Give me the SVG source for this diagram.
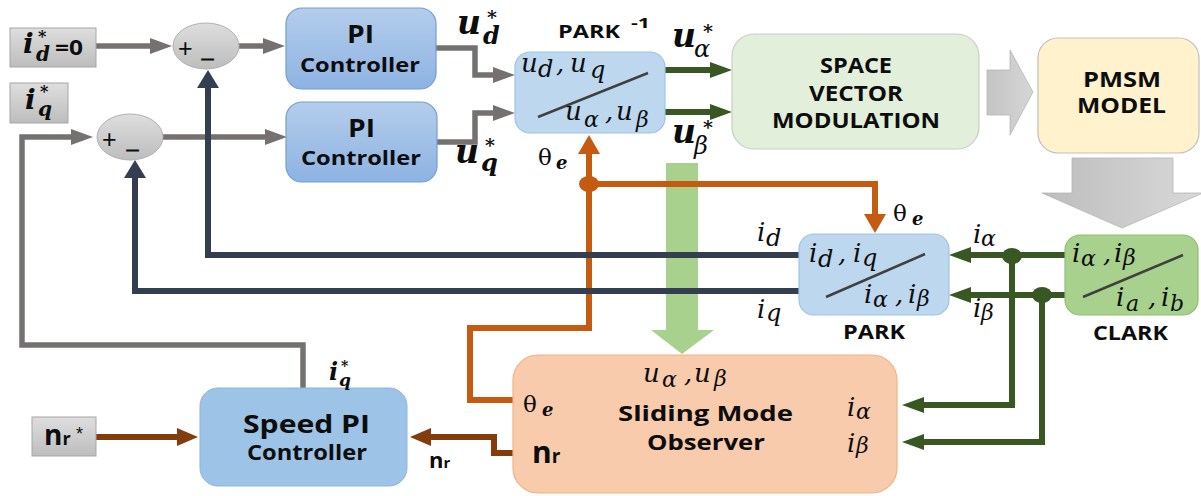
<svg xmlns="http://www.w3.org/2000/svg" width="1201" height="496" viewBox="0 0 1201 496">
  <style>
    .b { font-family: "Open Sans", "Liberation Sans", sans-serif; font-weight: bold; fill: #0d0d0d; }
    .sg { font-family: "Liberation Sans", sans-serif; fill: #0d0d0d; }
    .m { font-family: "DejaVu Serif", "Liberation Serif", serif; font-style: italic; fill: #0d0d0d; }
    .mb { font-family: "DejaVu Serif", "Liberation Serif", serif; font-style: italic; font-weight: bold; fill: #0d0d0d; }
    .th { font-family: "DejaVu Serif", "Liberation Serif", serif; font-style: normal; font-weight: normal; }
    .ln { fill: none; stroke-linejoin: miter; }
    .gray { stroke: #767171; stroke-width: 5.5; }
    .navy { stroke: #333f50; stroke-width: 6; }
    .green { stroke: #385723; stroke-width: 6; }
    .orange { stroke: #c55a11; stroke-width: 6; }
    .brown { stroke: #843c0c; stroke-width: 6; }
    .diag { stroke: #404040; stroke-width: 2.5; }
    .src { fill: url(#gGray); stroke: #a6a6a6; stroke-width: 1; }
    .sum { fill: url(#gGray); stroke: #b0b0b0; stroke-width: 1; }
    .pi { fill: url(#gPI); stroke: #6f9fd8; stroke-width: 1.2; }
    .park { fill: #bdd7ee; stroke: #9dc3e6; stroke-width: 1.2; }
  </style>
  <defs>
    <linearGradient id="gGray" x1="0" y1="0" x2="0" y2="1">
      <stop offset="0" stop-color="#dedede"/>
      <stop offset="1" stop-color="#bdbdbd"/>
    </linearGradient>
    <linearGradient id="gPI" x1="0" y1="0" x2="0" y2="1">
      <stop offset="0" stop-color="#b5cdeb"/>
      <stop offset="1" stop-color="#8db3e2"/>
    </linearGradient>
    <linearGradient id="gBlockH" x1="0" y1="0" x2="1" y2="0">
      <stop offset="0" stop-color="#c4c4c4"/>
      <stop offset="1" stop-color="#d6d6d6"/>
    </linearGradient>
    <linearGradient id="gBlockV" x1="0" y1="0" x2="1" y2="0">
      <stop offset="0" stop-color="#bdbdbd"/>
      <stop offset="1" stop-color="#d9d9d9"/>
    </linearGradient>
    <!-- arrowheads: tip sits 10px beyond the path end -->
    <marker id="aGray" markerUnits="userSpaceOnUse" viewBox="0 0 22 16" refX="12" refY="8" markerWidth="22" markerHeight="16" orient="auto">
      <path d="M0,0 L22,8 L0,16 z" fill="#767171"/>
    </marker>
    <marker id="aNavy" markerUnits="userSpaceOnUse" viewBox="0 0 18 22" refX="8" refY="11" markerWidth="18" markerHeight="22" orient="auto">
      <path d="M0,0 L18,11 L0,22 z" fill="#333f50"/>
    </marker>
    <marker id="aGreen" markerUnits="userSpaceOnUse" viewBox="0 0 22 16" refX="12" refY="8" markerWidth="22" markerHeight="16" orient="auto">
      <path d="M0,0 L22,8 L0,16 z" fill="#385723"/>
    </marker>
    <marker id="aOrange" markerUnits="userSpaceOnUse" viewBox="0 0 19 22" refX="9" refY="11" markerWidth="19" markerHeight="22" orient="auto">
      <path d="M0,0 L19,11 L0,22 z" fill="#c55a11"/>
    </marker>
    <marker id="aBrown" markerUnits="userSpaceOnUse" viewBox="0 0 21 18" refX="11" refY="9" markerWidth="21" markerHeight="18" orient="auto">
      <path d="M0,0 L21,9 L0,18 z" fill="#843c0c"/>
    </marker>
  </defs>

  <rect width="1201" height="496" fill="#ffffff"/>

  <!-- voltage feed into the observer -->
  <polygon id="feed-uab" points="666,163 698,163 698,330 714,330 682,354 651,330 666,330" fill="#a9d18e"/>

  <!-- power path block arrows -->
  <polygon id="svm-to-pmsm" points="987,70 1010,70 1010,50 1033,92 1010,135 1010,115 987,115" fill="url(#gBlockH)" stroke="#b5b5b5" stroke-width="0.8"/>
  <polygon id="pmsm-to-clark" points="1072,158 1173,158 1173,193 1203,193 1122,228 1042,193 1072,193" fill="url(#gBlockV)" stroke="#b5b5b5" stroke-width="0.8"/>

  <g id="connectors">
    <!-- references and PI outputs -->
    <path class="ln gray" d="M96,46 H162" marker-end="url(#aGray)"/>
    <path class="ln gray" d="M239,46 H275" marker-end="url(#aGray)"/>
    <path class="ln gray" d="M163,137 H277" marker-end="url(#aGray)"/>
    <path class="ln gray" d="M436,48 H475 V75 H505" marker-end="url(#aGray)"/>
    <path class="ln gray" d="M437,142 H475 V113 H505" marker-end="url(#aGray)"/>
    <path class="ln gray" d="M303,388 V345 H22 V137 H83" marker-end="url(#aGray)"/>

    <!-- rotor angle -->
    <path class="ln orange" d="M513,400 H470 V328 H589 V145" marker-end="url(#aOrange)"/>
    <path class="ln orange" d="M589,184 H875 V223" marker-end="url(#aOrange)"/>
    <ellipse cx="589" cy="184" rx="10" ry="8" fill="#c55a11"/>

    <!-- current feedback d/q -->
    <path class="ln navy" d="M799,255 H208 V80" marker-end="url(#aNavy)"/>
    <path class="ln navy" d="M799,291 H135 V170" marker-end="url(#aNavy)"/>

    <!-- alpha/beta signals -->
    <path class="ln green" d="M665,70 H722" marker-end="url(#aGreen)"/>
    <path class="ln green" d="M665,112 H722" marker-end="url(#aGreen)"/>
    <path class="ln green" d="M1065,255 H959" marker-end="url(#aGreen)"/>
    <path class="ln green" d="M1065,295 H959" marker-end="url(#aGreen)"/>
    <path class="ln green" d="M1012,255 V405 H912" marker-end="url(#aGreen)"/>
    <path class="ln green" d="M1042,295 V442 H912" marker-end="url(#aGreen)"/>
    <ellipse cx="1012" cy="256" rx="10" ry="8" fill="#385723"/>
    <ellipse cx="1042" cy="295" rx="10" ry="8" fill="#385723"/>

    <!-- speed loop -->
    <path class="ln brown" d="M96,437 H188" marker-end="url(#aBrown)"/>
    <path class="ln brown" d="M513,453 H494 V437 H420" marker-end="url(#aBrown)"/>
  </g>

  <!-- reference inputs -->
  <g id="ref-id">
    <rect class="src" x="10" y="28" width="86" height="39"/>
    <text class="mb" font-size="28"><tspan x="23" y="53">i</tspan><tspan x="36" y="61" font-size="20">d</tspan><tspan x="38" y="42" font-size="16">*</tspan></text>
    <text class="b" x="55" y="55" font-size="22" textLength="28" lengthAdjust="spacingAndGlyphs">=0</text>
  </g>
  <g id="ref-iq">
    <rect class="src" x="10" y="83" width="58" height="40"/>
    <text class="mb" font-size="28"><tspan x="25" y="109">i</tspan><tspan x="38" y="116" font-size="20">q</tspan><tspan x="40" y="97" font-size="16">*</tspan></text>
  </g>

  <!-- summing junctions -->
  <g id="sum-d">
    <ellipse class="sum" cx="206" cy="46" rx="33" ry="23"/>
    <text class="sg" x="178" y="57" font-size="25">+</text>
    <text class="sg" x="202" y="57" font-size="20" font-weight="bold" stroke="#0d0d0d" stroke-width="1.4">_</text>
  </g>
  <g id="sum-q">
    <ellipse class="sum" cx="130" cy="137" rx="33" ry="23"/>
    <text class="sg" x="102" y="148" font-size="25">+</text>
    <text class="sg" x="127" y="148" font-size="20" font-weight="bold" stroke="#0d0d0d" stroke-width="1.4">_</text>
  </g>

  <!-- current PI controllers -->
  <g id="pi-d">
    <rect class="pi" x="286" y="8" width="150" height="81" rx="16"/>
    <text class="b" x="347" y="43" font-size="25" textLength="27" lengthAdjust="spacingAndGlyphs">PI</text>
    <text class="b" x="300" y="72" font-size="20" textLength="120" lengthAdjust="spacingAndGlyphs">Controller</text>
  </g>
  <g id="pi-q">
    <rect class="pi" x="286" y="102" width="151" height="80" rx="16"/>
    <text class="b" x="348" y="137" font-size="25" textLength="27" lengthAdjust="spacingAndGlyphs">PI</text>
    <text class="b" x="301" y="165" font-size="20" textLength="120" lengthAdjust="spacingAndGlyphs">Controller</text>
  </g>

  <!-- voltage references -->
  <text id="lbl-ud" class="mb" font-size="33"><tspan x="457" y="34">u</tspan><tspan x="483" y="44" font-size="24">d</tspan><tspan x="487" y="24" font-size="19">*</tspan></text>
  <text id="lbl-uq" class="mb" font-size="33"><tspan x="455" y="163">u</tspan><tspan x="481" y="171" font-size="24">q</tspan><tspan x="485" y="152" font-size="19">*</tspan></text>

  <!-- inverse Park transform -->
  <g id="park-inv">
    <rect class="park" x="515" y="52" width="150" height="81" rx="15"/>
    <line class="diag" x1="538" y1="117" x2="648" y2="73"/>
    <text class="m" font-size="26"><tspan x="521" y="72">u</tspan><tspan x="538" y="77" font-size="24">d</tspan><tspan x="556" y="72">,</tspan><tspan x="570" y="72">u</tspan><tspan x="590" y="78" font-size="24">q</tspan></text>
    <text class="m" font-size="26"><tspan x="565" y="120">u</tspan><tspan x="584" y="127" font-size="22">α</tspan><tspan x="605" y="120">,</tspan><tspan x="616" y="120">u</tspan><tspan x="636" y="127" font-size="22">β</tspan></text>
    <text class="b" x="558" y="38" font-size="18" textLength="62" lengthAdjust="spacingAndGlyphs">PARK</text>
    <text class="b" x="631" y="28" font-size="15" textLength="19" lengthAdjust="spacingAndGlyphs">-1</text>
  </g>

  <text id="lbl-ualpha" class="mb" font-size="33"><tspan x="672" y="47">u</tspan><tspan class="m" x="694" y="57" font-size="24" font-weight="normal">α</tspan><tspan x="703" y="38" font-size="19">*</tspan></text>
  <text id="lbl-ubeta" class="mb" font-size="33"><tspan x="672" y="143">u</tspan><tspan class="m" x="694" y="154" font-size="24" font-weight="normal">β</tspan><tspan x="703" y="134" font-size="19">*</tspan></text>
  <text id="lbl-theta-top" class="mb" font-size="18"><tspan class="th" x="538" y="165" font-size="23">θ</tspan><tspan x="556" y="169">e</tspan></text>

  <!-- space vector modulation -->
  <g id="svm">
    <rect x="732" y="34" width="247" height="115" rx="22" fill="#e2efda" stroke="#c8cfc3" stroke-width="1.2"/>
    <text class="b" x="820" y="73" font-size="21" textLength="72" lengthAdjust="spacingAndGlyphs">SPACE</text>
    <text class="b" x="809" y="101" font-size="21" textLength="94" lengthAdjust="spacingAndGlyphs">VECTOR</text>
    <text class="b" x="772" y="128" font-size="21" textLength="168" lengthAdjust="spacingAndGlyphs">MODULATION</text>
  </g>

  <!-- motor -->
  <g id="pmsm">
    <rect x="1038" y="38" width="161" height="115" rx="20" fill="#fff2cc" stroke="#bfbfbf" stroke-width="1.2"/>
    <text class="b" x="1083" y="87" font-size="22" textLength="78" lengthAdjust="spacingAndGlyphs">PMSM</text>
    <text class="b" x="1077" y="113" font-size="22" textLength="89" lengthAdjust="spacingAndGlyphs">MODEL</text>
  </g>

  <!-- Park transform -->
  <g id="park">
    <rect class="park" x="799" y="234" width="150" height="81" rx="15"/>
    <line class="diag" x1="826" y1="297" x2="925" y2="254"/>
    <text class="m" font-size="26"><tspan x="809" y="262">i</tspan><tspan x="818" y="267" font-size="24">d</tspan><tspan x="838" y="262">,</tspan><tspan x="853" y="262">i</tspan><tspan x="862" y="266" font-size="24">q</tspan></text>
    <text class="m" font-size="26"><tspan x="864" y="303">i</tspan><tspan x="873" y="307" font-size="22">α</tspan><tspan x="895" y="303">,</tspan><tspan x="908" y="303">i</tspan><tspan x="917" y="306" font-size="22">β</tspan></text>
    <text class="b" x="843" y="339" font-size="19" textLength="62" lengthAdjust="spacingAndGlyphs">PARK</text>
  </g>
  <g id="lbl-park-in">
    <text class="m" font-size="26"><tspan x="757" y="241">i</tspan><tspan x="766" y="246" font-size="24">d</tspan></text>
    <text class="m" font-size="26"><tspan x="757" y="318">i</tspan><tspan x="766" y="321" font-size="24">q</tspan></text>
    <text class="mb" font-size="18"><tspan class="th" x="893" y="221" font-size="23">θ</tspan><tspan x="912" y="225">e</tspan></text>
    <text class="m" font-size="26"><tspan x="973" y="243">i</tspan><tspan x="981" y="246" font-size="22">α</tspan></text>
    <text class="m" font-size="26"><tspan x="973" y="317">i</tspan><tspan x="981" y="320" font-size="22">β</tspan></text>
  </g>

  <!-- Clarke transform -->
  <g id="clark">
    <rect x="1065" y="235" width="133" height="80" rx="15" fill="#a9d18e" stroke="#8fbf70" stroke-width="1.2"/>
    <line class="diag" x1="1083" y1="297" x2="1183" y2="255"/>
    <text class="m" font-size="26"><tspan x="1072" y="262">i</tspan><tspan x="1081" y="266" font-size="22">α</tspan><tspan x="1103" y="262">,</tspan><tspan x="1114" y="262">i</tspan><tspan x="1123" y="265" font-size="22">β</tspan></text>
    <text class="m" font-size="26"><tspan x="1116" y="306">i</tspan><tspan x="1126" y="311" font-size="22">a</tspan><tspan x="1148" y="306">,</tspan><tspan x="1161" y="306">i</tspan><tspan x="1170" y="311" font-size="22">b</tspan></text>
    <text class="b" x="1093" y="340" font-size="19" textLength="75" lengthAdjust="spacingAndGlyphs">CLARK</text>
  </g>

  <!-- sliding mode observer -->
  <g id="smo">
    <rect x="513" y="355" width="384" height="138" rx="25" fill="#f8cbad" stroke="#f4b183" stroke-width="1.2"/>
    <text class="m" font-size="26"><tspan x="643" y="382">u</tspan><tspan x="662" y="387" font-size="22">α</tspan><tspan x="684" y="382">,</tspan><tspan x="694" y="382">u</tspan><tspan x="714" y="386" font-size="22">β</tspan></text>
    <text class="b" x="618" y="421" font-size="22" textLength="175" lengthAdjust="spacingAndGlyphs">Sliding Mode</text>
    <text class="b" x="647" y="450" font-size="22" textLength="118" lengthAdjust="spacingAndGlyphs">Observer</text>
    <text class="mb" font-size="18"><tspan class="th" x="523" y="412" font-size="23">θ</tspan><tspan x="542" y="416">e</tspan></text>
    <text class="b" y="463"><tspan x="532" font-size="30">n</tspan><tspan font-size="19">r</tspan></text>
    <text class="m" font-size="26"><tspan x="847" y="416">i</tspan><tspan x="856" y="419" font-size="22">α</tspan></text>
    <text class="m" font-size="26"><tspan x="847" y="452">i</tspan><tspan x="856" y="453" font-size="22">β</tspan></text>
  </g>

  <!-- speed controller -->
  <g id="speed-pi">
    <rect x="200" y="388" width="207" height="98" rx="18" fill="#9dc3e6" stroke="#8bb6e0" stroke-width="1"/>
    <text class="b" x="243" y="433" font-size="25" textLength="127" lengthAdjust="spacingAndGlyphs">Speed PI</text>
    <text class="b" x="247" y="460" font-size="21" textLength="120" lengthAdjust="spacingAndGlyphs">Controller</text>
  </g>
  <text id="lbl-iq-ref" class="mb" font-size="24"><tspan x="329" y="380">i</tspan><tspan x="339" y="386" font-size="17">q</tspan><tspan x="341" y="371" font-size="14">*</tspan></text>
  <g id="ref-nr">
    <rect class="src" x="32" y="417" width="64" height="39"/>
    <text class="b" y="445"><tspan x="44" font-size="28">n</tspan><tspan font-size="18">r</tspan><tspan class="sg" x="76" y="440" font-size="18" font-weight="normal">*</tspan></text>
  </g>
  <g id="lbl-nr">
    <text class="b" y="468"><tspan x="429" font-size="22">n</tspan><tspan font-size="15">r</tspan></text>
  </g>
</svg>
